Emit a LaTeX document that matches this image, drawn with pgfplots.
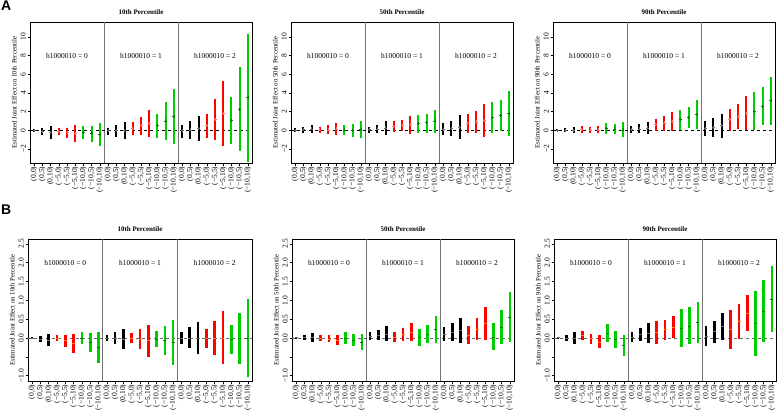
\documentclass[border=0pt]{standalone}
\usepackage{pgfplots}
\usepackage{pgfplotstable}
\pgfplotsset{compat=1.18}
\usepackage{fontspec}
\setmainfont{Liberation Serif}
\newfontfamily\lsans{Liberation Sans}

\definecolor{rgreen}{RGB}{0,205,0}
\definecolor{rred}{RGB}{255,0,0}

% columns: x, estimate, lower, upper, colour group (0 black, 1 red, 2 green)
\pgfplotstableread{
x y lo hi c
1 0 -0.15 0.15 0
2 -0.1 -0.5 0.3 0
3 -0.2 -0.95 0.45 0
4 -0.1 -0.45 0.2 1
5 -0.2 -0.8 0.3 1
6 -0.3 -1.2 0.55 1
7 -0.2 -0.95 0.45 2
8 -0.3 -1.2 0.5 2
9 -0.45 -1.7 0.75 2
10 0 -0.45 0.3 0
11 0 -0.7 0.55 0
12 0 -0.95 0.9 0
13 0.2 -0.5 0.9 1
14 0.5 -0.5 1.45 1
15 0.75 -0.7 2.2 1
16 0.5 -0.85 1.75 2
17 1.0 -1.05 3.0 2
18 1.5 -1.45 4.4 2
19 -0.05 -0.8 0.55 0
20 0.05 -0.9 0.95 0
21 0.2 -1.15 1.55 0
22 0.5 -0.8 1.8 1
23 1.2 -1.05 3.35 1
24 1.8 -1.65 5.3 1
25 1.1 -1.45 3.6 2
26 2.25 -2.2 6.75 2
27 3.5 -3.35 10.3 2
}\tAten

\pgfplotstableread{
x y lo hi c
1 0 -0.15 0.2 0
2 0.1 -0.25 0.4 0
3 0.15 -0.3 0.55 0
4 0.05 -0.3 0.4 1
5 0.05 -0.4 0.55 1
6 0.15 -0.5 0.8 1
7 0.05 -0.5 0.6 2
8 0 -0.7 0.7 2
9 0.1 -0.8 1.0 2
10 0.1 -0.25 0.4 0
11 0.15 -0.3 0.6 0
12 0.25 -0.45 0.95 0
13 0.4 -0.2 1.0 1
14 0.55 -0.1 1.15 1
15 0.65 -0.35 1.55 1
16 0.7 -0.3 1.65 2
17 0.85 -0.25 1.75 2
18 1.0 -0.3 2.2 2
19 0.1 -0.5 0.75 0
20 0.2 -0.6 1.05 0
21 0.3 -0.95 1.6 0
22 0.75 -0.3 1.75 1
23 0.9 -0.3 2.1 1
24 1.05 -0.7 2.85 1
25 1.35 -0.3 3.0 2
26 1.6 -0.05 3.3 2
27 1.85 -0.6 4.25 2
}\tAfifty

\pgfplotstableread{
x y lo hi c
1 0 -0.1 0.15 0
2 0 -0.2 0.25 0
3 0 -0.3 0.35 0
4 0.1 -0.25 0.45 1
5 0.05 -0.25 0.35 1
6 0.05 -0.3 0.45 1
7 0.2 -0.35 0.8 2
8 0.15 -0.4 0.7 2
9 0.05 -0.7 0.85 2
10 0.1 -0.3 0.5 0
11 0.15 -0.3 0.65 0
12 0.25 -0.35 0.9 0
13 0.6 -0.1 1.25 1
14 0.8 -0.05 1.55 1
15 0.95 -0.05 2.0 1
16 1.15 0.05 2.2 2
17 1.4 0.25 2.55 2
18 1.7 0.15 3.2 2
19 0.2 -0.65 0.95 0
20 0.3 -0.7 1.3 0
21 0.5 -0.8 1.75 0
22 1.15 -0.1 2.3 1
23 1.5 0.15 2.85 1
24 1.8 0 3.7 1
25 2.0 0 4.1 2
26 2.6 0.6 4.6 2
27 3.2 0.6 5.75 2
}\tAninety

\pgfplotstableread{
x y lo hi c
1 0 -0.03 0.03 0
2 -0.02 -0.1 0.05 0
3 -0.05 -0.2 0.1 0
4 0 -0.09 0.09 1
5 -0.07 -0.23 0.08 1
6 -0.15 -0.4 0.1 1
7 0 -0.16 0.15 2
8 -0.12 -0.38 0.13 2
9 -0.25 -0.65 0.15 2
10 0 -0.09 0.09 0
11 0 -0.16 0.15 0
12 -0.02 -0.28 0.25 0
13 0 -0.14 0.13 1
14 -0.03 -0.3 0.24 1
15 -0.07 -0.49 0.35 1
16 -0.02 -0.23 0.2 2
17 -0.07 -0.46 0.32 2
18 -0.12 -0.72 0.47 2
19 0 -0.17 0.17 0
20 0 -0.26 0.29 0
21 0 -0.42 0.43 0
22 -0.01 -0.26 0.24 1
23 0 -0.46 0.46 1
24 0 -0.7 0.73 1
25 -0.03 -0.41 0.35 2
26 -0.01 -0.68 0.66 2
27 0 -1.04 1.05 2
}\tBten

\pgfplotstableread{
x y lo hi c
1 0.01 -0.03 0.035 0
2 0.01 -0.06 0.08 0
3 0.01 -0.11 0.13 0
4 0 -0.08 0.08 1
5 -0.02 -0.11 0.07 1
6 -0.05 -0.19 0.08 1
7 0 -0.15 0.15 2
8 -0.05 -0.21 0.1 2
9 -0.11 -0.32 0.1 2
10 0.05 -0.05 0.15 0
11 0.08 -0.05 0.21 0
12 0.1 -0.09 0.31 0
13 0.03 -0.1 0.17 1
14 0.1 -0.07 0.27 1
15 0.16 -0.09 0.41 1
16 0.01 -0.21 0.23 2
17 0.11 -0.14 0.36 2
18 0.22 -0.14 0.58 2
19 0.1 -0.09 0.29 0
20 0.15 -0.07 0.39 0
21 0.2 -0.13 0.54 0
22 0.07 -0.17 0.31 1
23 0.23 -0.06 0.52 1
24 0.39 -0.04 0.82 1
25 0.03 -0.33 0.39 2
26 0.29 -0.16 0.74 2
27 0.55 -0.1 1.21 2
}\tBfifty

\pgfplotstableread{
x y lo hi c
1 0.01 -0.02 0.035 0
2 0 -0.09 0.09 0
3 0 -0.16 0.16 0
4 0.07 -0.05 0.2 1
5 -0.01 -0.15 0.12 1
6 -0.1 -0.27 0.07 1
7 0.13 -0.1 0.37 2
8 -0.03 -0.27 0.2 2
9 -0.2 -0.48 0.07 2
10 0.03 -0.11 0.17 0
11 0.09 -0.09 0.26 0
12 0.13 -0.14 0.39 0
13 0.14 -0.16 0.45 1
14 0.22 -0.05 0.49 1
15 0.28 0 0.58 1
16 0.26 -0.25 0.76 2
17 0.32 -0.16 0.82 2
18 0.41 -0.14 0.96 2
19 0.06 -0.21 0.32 0
20 0.17 -0.12 0.46 0
21 0.3 -0.06 0.66 0
22 0.22 -0.3 0.74 1
23 0.44 -0.03 0.9 1
24 0.66 0.19 1.14 1
25 0.38 -0.48 1.25 2
26 0.71 -0.11 1.53 2
27 1.02 0.15 1.91 2
}\tBninety

\pgfplotsset{
  table/ciopts/.style={x=x, y=y,
    y error plus expr={\thisrow{hi}-\thisrow{y}},
    y error minus expr={\thisrow{y}-\thisrow{lo}}},
  panel/.style={
    scale only axis,
    anchor=south west,
    xmin=0.5, xmax=27.5,
    axis line style={line width=0.6pt},
    tick align=outside,
    tick pos=left,
    major tick length=2.5pt,
    tick style={black, line width=0.5pt},
    xtick={1,...,27},
    xticklabels={{(0,0)},{(0,5)},{(0,10)},{(−5,0)},{(−5,5)},{(−5,10)},{(−10,0)},{(−10,5)},{(−10,10)},
                 {(0,0)},{(0,5)},{(0,10)},{(−5,0)},{(−5,5)},{(−5,10)},{(−10,0)},{(−10,5)},{(−10,10)},
                 {(0,0)},{(0,5)},{(0,10)},{(−5,0)},{(−5,5)},{(−5,10)},{(−10,0)},{(−10,5)},{(−10,10)}},
    x tick label style={rotate=90, anchor=east, inner sep=1pt, font=\fontsize{7.5}{7.5}\selectfont},
    y tick label style={rotate=90, anchor=south, inner sep=1.5pt, font=\fontsize{7.5}{7.5}\selectfont},
    ylabel style={font=\fontsize{6.8}{6.8}\selectfont, yshift=-1pt},
    title style={font=\bfseries\fontsize{7}{7}\selectfont, inner sep=1pt},
    extra x ticks={9.5,18.5},
    extra x tick labels={},
    extra x tick style={grid=major, major grid style={black!55, line width=0.9pt}, major tick length=0pt},
    clip=false,
  },
  panelA/.style={panel, width=222pt, height=141pt, ymin=-3.5, ymax=11.6,
    ytick={-2,0,2,4,6,8,10}, yticklabels={−2,0,2,4,6,8,10}},
  panelB/.style={panel, width=222pt, height=142pt, ymin=-1.14, ymax=2.63,
    ytick={-1,-0.5,0,0.5,1,1.5,2,2.5}, yticklabels={−1.0,,0.0,0.5,1.0,1.5,2.0,2.5}},
  cibar/.style n args={4}{only marks, color=#1, mark=#2, mark size=1.5pt,
    mark options={color=#3, line width=0.6pt},
    error bars/.cd, y dir=both, y explicit, error mark=none,
    error bar style={line width=#4, color=#1}},
}

% dashed zero line and the three colour groups of one panel
\newcommand\ciplots[5]{%
  \addplot[#3, dashed, line width=0.6pt, forget plot] coordinates {(0.5,0) (27.5,0)};
  \addplot[restrict expr to domain={\thisrow{c}}{-0.5:0.5}, cibar={black}{#2}{black!60}{#4}] table[ciopts] {#1};
  \addplot[restrict expr to domain={\thisrow{c}}{0.5:1.5}, cibar={rred}{#2}{#5}{#4}] table[ciopts] {#1};
  \addplot[restrict expr to domain={\thisrow{c}}{1.5:2.5}, cibar={rgreen}{#2}{rgreen!60!black}{#4}] table[ciopts] {#1};
}

\newcommand\hlabels[1]{%
  \node[font=\fontsize{7.5}{7.5}\selectfont] at (axis cs:5,#1) {h1000010 = 0};
  \node[font=\fontsize{7.5}{7.5}\selectfont] at (axis cs:14,#1) {h1000010 = 1};
  \node[font=\fontsize{7.5}{7.5}\selectfont] at (axis cs:23,#1) {h1000010 = 2};
}

\begin{document}
\begin{tikzpicture}
\useasboundingbox (0pt,0pt) rectangle (778pt,-413pt);

\node[anchor=north west, inner sep=0pt, font=\lsans\bfseries\fontsize{14}{14}\selectfont] at (1pt,-1pt) {A};
\node[anchor=north west, inner sep=0pt, font=\lsans\bfseries\fontsize{14}{14}\selectfont] at (1pt,-205pt) {B};

% row A
\begin{axis}[panelA, at={(30pt,-163pt)}, title={10th Percentile}, ylabel={Estimated Joint Effect on 10th Percentile}]
  \ciplots{\tAten}{+}{black}{2pt}{rred!60}
  \hlabels{8}
\end{axis}
\begin{axis}[panelA, at={(291pt,-163pt)}, title={50th Percentile}, ylabel={Estimated Joint Effect on 50th Percentile}]
  \ciplots{\tAfifty}{+}{black}{2pt}{rred!60}
  \hlabels{8}
\end{axis}
\begin{axis}[panelA, at={(553pt,-163pt)}, title={90th Percentile}, ylabel={Estimated Joint Effect on 90th Percentile}]
  \ciplots{\tAninety}{+}{black}{2pt}{rred!60}
  \hlabels{8}
\end{axis}

% row B
\begin{axis}[panelB, at={(28pt,-381pt)}, width=224pt, title={10th Percentile}, ylabel={Estimated Joint Effect on 10th Percentile}]
  \ciplots{\tBten}{-}{black!60}{2.6pt}{orange}
  \hlabels{2}
\end{axis}
\begin{axis}[panelB, at={(292pt,-381pt)}, title={50th Percentile}, ylabel={Estimated Joint Effect on 50th Percentile}]
  \ciplots{\tBfifty}{-}{black!60}{2.6pt}{orange}
  \hlabels{2}
\end{axis}
\begin{axis}[panelB, at={(554pt,-381pt)}, title={90th Percentile}, ylabel={Estimated Joint Effect on 90th Percentile}]
  \ciplots{\tBninety}{-}{black!60}{2.6pt}{orange}
  \hlabels{2}
\end{axis}
\end{tikzpicture}
\end{document}
